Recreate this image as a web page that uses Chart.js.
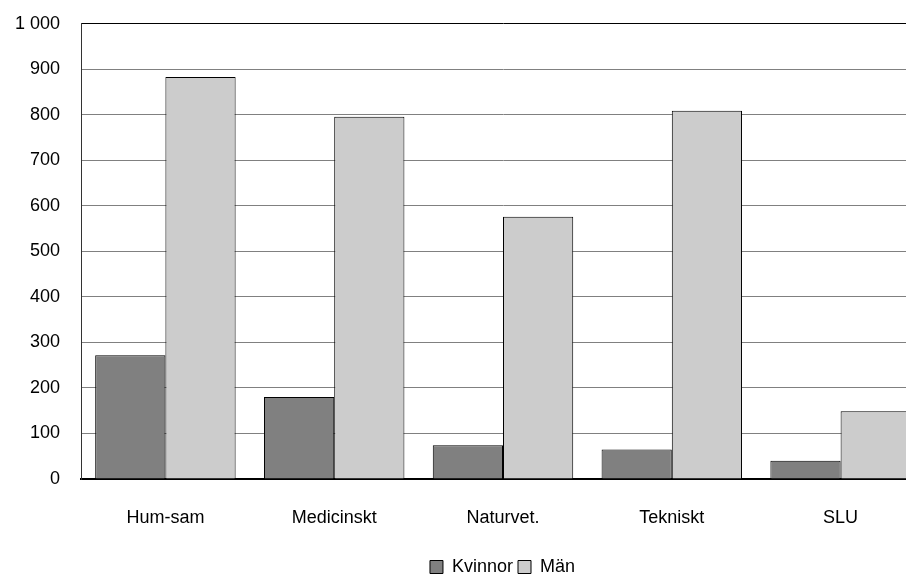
<!DOCTYPE html>
<html>
<head>
<meta charset="utf-8">
<script src="https://cdn.jsdelivr.net/npm/chart.js@4"></script>
<style>
  html, body { margin: 0; padding: 0; background: #fff; overflow: hidden; }
  #wrap { width: 925px; height: 586px; margin-top: -8px; }
</style>
</head>
<body>
<div id="wrap"><canvas id="chart"></canvas></div>
<script>
const CATEGORIES = ["Hum-sam", "Medicinskt", "Naturvet.", "Tekniskt", "SLU"];
const KVINNOR = [272, 180, 74, 65, 40];
const MAN = [883, 796, 576, 809, 149];
const Y_TICKS = [0, 100, 200, 300, 400, 500, 600, 700, 800, 900, 1000];

const FONT = { family: "'Liberation Sans', Arial, sans-serif", size: 18 };

function formatThousands(v) {
  return String(v).replace(/\B(?=(\d{3})+(?!\d))/g, " ");
}

// the legend sits a bit right of the canvas centre in the original
const legendShift = {
  id: "legendShift",
  afterLayout(chart) {
    if (!chart.legend) return;
    chart.legend.left += 40;
    chart.legend.right += 40;
  },
};

new Chart(document.getElementById("chart"), {
  type: "bar",
  data: {
    labels: CATEGORIES,
    datasets: [
      {
        label: "Kvinnor",
        data: KVINNOR,
        backgroundColor: "#808080",
        borderColor: "#000",
        borderWidth: 1,
      },
      {
        label: "Män",
        data: MAN,
        backgroundColor: "#cccccc",
        borderColor: "#000",
        borderWidth: 1,
      },
    ],
  },
  options: {
    responsive: true,
    maintainAspectRatio: false,
    animation: false,
    layout: { padding: { top: 15, left: 0, right: 0, bottom: -8 } },
    datasets: { bar: { categoryPercentage: 0.832, barPercentage: 1.0 } },
    scales: {
      x: {
        grid: { display: false, drawTicks: false },
        border: { color: "#000", width: 2 },
        ticks: { color: "#000", font: FONT, padding: 28, maxRotation: 0 },
        afterFit: (scale) => { scale.height = 74; },
      },
      y: {
        min: 0,
        max: 1000,
        afterBuildTicks: (scale) => { scale.ticks = Y_TICKS.map((v) => ({ value: v })); },
        grid: {
          drawTicks: false,
          color: (ctx) => (ctx.tick && ctx.tick.value === 1000 ? "#000" : "#808080"),
          lineWidth: 1,
        },
        border: { color: "#333", width: 1 },
        ticks: {
          color: "#000",
          font: FONT,
          padding: 21,
          callback: (v) => formatThousands(v),
        },
        afterFit: (scale) => { scale.width = 81; },
      },
    },
    plugins: {
      legend: {
        position: "bottom",
        labels: {
          color: "#000",
          font: FONT,
          boxWidth: 13,
          boxHeight: 13,
          padding: 5,
        },
      },
      tooltip: { enabled: false },
    },
  },
  plugins: [legendShift],
});
</script>
</body>
</html>
